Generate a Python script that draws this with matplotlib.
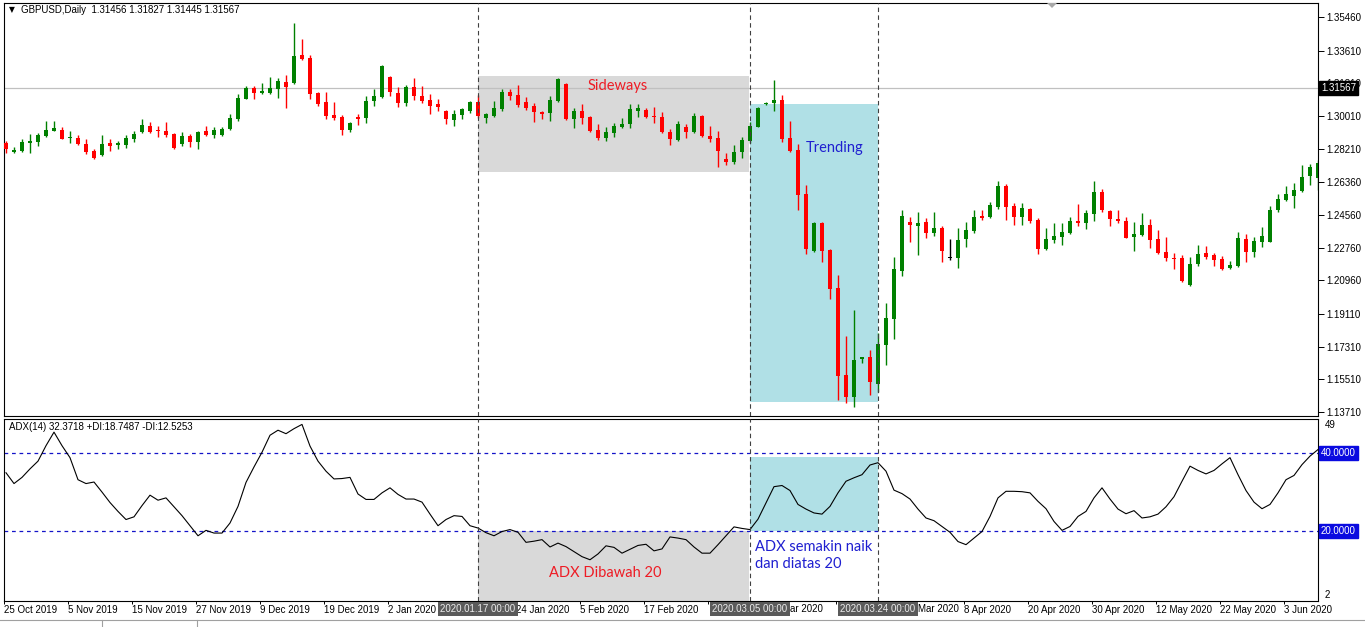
import numpy as np
import matplotlib.pyplot as plt
import matplotlib.patches as mpatches
import matplotlib.transforms as mtransforms
from matplotlib.lines import Line2D

# GBPUSD daily candles, one entry per bar
opens = [1.2853, 1.2803, 1.2809, 1.2853, 1.2858, 1.2891, 1.2919, 1.2924, 1.2880, 1.2880,
         1.2847, 1.2809, 1.2787, 1.2853, 1.2842, 1.2842, 1.2875, 1.2913, 1.2946, 1.2924,
         1.2919, 1.2902, 1.2847, 1.2891, 1.2858, 1.2919, 1.2897, 1.2897, 1.2930, 1.2985,
         1.3095, 1.3156, 1.3128, 1.3128, 1.3150, 1.3189, 1.3183, 1.3337, 1.3321, 1.3128,
         1.3078, 1.3007, 1.2996, 1.2924, 1.2996, 1.2990, 1.3084, 1.3106, 1.3216, 1.3128,
         1.3073, 1.3161, 1.3111, 1.3089, 1.3067, 1.3029, 1.2979, 1.3007, 1.3029, 1.3078,
         1.2990, 1.3001, 1.3040, 1.3133, 1.3117, 1.3078, 1.3056, 1.3023, 1.3018, 1.3084,
         1.3178, 1.2985, 1.3029, 1.2996, 1.2924, 1.2880, 1.2908, 1.2941, 1.2957, 1.3029,
         1.3034, 1.3001, 1.2996, 1.2913, 1.2869, 1.2941, 1.2913, 1.3001, 1.2891, 1.2880,
         1.2765, 1.2748, 1.2803, 1.2864, 1.2941, 1.3067, 1.3073, 1.3089, 1.2880, 1.2814,
         1.2572, 1.2258, 1.2412, 1.2264, 1.2054, 1.1575, 1.1454, 1.1663, 1.1674, 1.1526,
         1.1740, 1.1884, 1.2148, 1.2418, 1.2396, 1.2418, 1.2357, 1.2385, 1.2220, 1.2220,
         1.2324, 1.2368, 1.2451, 1.2445, 1.2500, 1.2616, 1.2506, 1.2445, 1.2489, 1.2429,
         1.2269, 1.2319, 1.2335, 1.2357, 1.2423, 1.2412, 1.2462, 1.2583, 1.2478, 1.2434,
         1.2423, 1.2335, 1.2346, 1.2401, 1.2324, 1.2253, 1.2220, 1.2220, 1.2071, 1.2186,
         1.2247, 1.2236, 1.2214, 1.2164, 1.2175, 1.2324, 1.2253, 1.2308, 1.2308, 1.2484,
         1.2539, 1.2561, 1.2588, 1.2671, 1.2660]
highs = [1.2864, 1.2831, 1.2875, 1.2902, 1.2908, 1.2974, 1.2974, 1.2941, 1.2919, 1.2897,
         1.2875, 1.2820, 1.2897, 1.2875, 1.2864, 1.2897, 1.2919, 1.2985, 1.2968, 1.2946,
         1.2968, 1.2908, 1.2913, 1.2902, 1.2919, 1.2946, 1.2941, 1.2941, 1.3012, 1.3122,
         1.3167, 1.3167, 1.3183, 1.3216, 1.3211, 1.3227, 1.3513, 1.3425, 1.3337, 1.3133,
         1.3133, 1.3078, 1.3007, 1.2968, 1.3012, 1.3111, 1.3150, 1.3282, 1.3222, 1.3161,
         1.3172, 1.3211, 1.3167, 1.3122, 1.3095, 1.3034, 1.3034, 1.3045, 1.3084, 1.3117,
         1.3018, 1.3084, 1.3150, 1.3150, 1.3172, 1.3106, 1.3073, 1.3029, 1.3111, 1.3211,
         1.3183, 1.3045, 1.3067, 1.3001, 1.2957, 1.2941, 1.2963, 1.2990, 1.3067, 1.3067,
         1.3045, 1.3051, 1.3023, 1.2930, 1.2974, 1.2957, 1.3018, 1.3007, 1.2946, 1.2919,
         1.2798, 1.2842, 1.2886, 1.2968, 1.3051, 1.3078, 1.3200, 1.3117, 1.2974, 1.2847,
         1.2621, 1.2418, 1.2418, 1.2269, 1.2126, 1.1790, 1.1933, 1.1677, 1.1713, 1.1807,
         1.1972, 1.2225, 1.2484, 1.2445, 1.2473, 1.2440, 1.2473, 1.2396, 1.2324, 1.2385,
         1.2418, 1.2484, 1.2484, 1.2528, 1.2643, 1.2627, 1.2522, 1.2522, 1.2495, 1.2440,
         1.2385, 1.2412, 1.2412, 1.2445, 1.2517, 1.2484, 1.2643, 1.2599, 1.2484, 1.2484,
         1.2445, 1.2418, 1.2467, 1.2434, 1.2374, 1.2335, 1.2247, 1.2236, 1.2225, 1.2291,
         1.2286, 1.2247, 1.2231, 1.2203, 1.2363, 1.2352, 1.2335, 1.2390, 1.2506, 1.2572,
         1.2616, 1.2632, 1.2732, 1.2737, 1.2759]
lows = [1.2798, 1.2798, 1.2803, 1.2798, 1.2836, 1.2886, 1.2919, 1.2875, 1.2853, 1.2842,
        1.2792, 1.2765, 1.2781, 1.2809, 1.2820, 1.2825, 1.2858, 1.2908, 1.2908, 1.2886,
        1.2886, 1.2820, 1.2836, 1.2831, 1.2820, 1.2891, 1.2880, 1.2891, 1.2924, 1.2974,
        1.3095, 1.3095, 1.3122, 1.3122, 1.3100, 1.3045, 1.3178, 1.3312, 1.3095, 1.3056,
        1.2985, 1.2979, 1.2897, 1.2913, 1.2952, 1.2963, 1.3056, 1.3100, 1.3111, 1.3051,
        1.3056, 1.3089, 1.3073, 1.3012, 1.3029, 1.2957, 1.2946, 1.2985, 1.3018, 1.2990,
        1.2963, 1.2996, 1.3029, 1.3089, 1.3051, 1.3034, 1.2968, 1.2985, 1.2974, 1.3078,
        1.2979, 1.2935, 1.2957, 1.2913, 1.2869, 1.2864, 1.2886, 1.2935, 1.2935, 1.2996,
        1.2993, 1.2963, 1.2908, 1.2842, 1.2864, 1.2880, 1.2908, 1.2888, 1.2858, 1.2721,
        1.2732, 1.2737, 1.2770, 1.2853, 1.2938, 1.3062, 1.3029, 1.2858, 1.2803, 1.2484,
        1.2242, 1.2255, 1.2197, 1.1994, 1.1438, 1.1421, 1.1399, 1.1641, 1.1465, 1.1482,
        1.1630, 1.1773, 1.2120, 1.2308, 1.2236, 1.2330, 1.2341, 1.2197, 1.2208, 1.2164,
        1.2280, 1.2357, 1.2429, 1.2442, 1.2489, 1.2429, 1.2401, 1.2401, 1.2412, 1.2242,
        1.2264, 1.2302, 1.2291, 1.2352, 1.2396, 1.2379, 1.2423, 1.2473, 1.2396, 1.2412,
        1.2327, 1.2258, 1.2341, 1.2275, 1.2244, 1.2203, 1.2159, 1.2090, 1.2065, 1.2175,
        1.2214, 1.2175, 1.2156, 1.2159, 1.2172, 1.2197, 1.2225, 1.2280, 1.2305, 1.2473,
        1.2536, 1.2495, 1.2583, 1.2621, 1.2594]
closes = [1.2820, 1.2814, 1.2858, 1.2864, 1.2897, 1.2924, 1.2935, 1.2875, 1.2886, 1.2847,
          1.2803, 1.2770, 1.2847, 1.2836, 1.2853, 1.2880, 1.2902, 1.2952, 1.2913, 1.2919,
          1.2897, 1.2825, 1.2891, 1.2858, 1.2913, 1.2897, 1.2924, 1.2930, 1.2990, 1.3100,
          1.3156, 1.3128, 1.3139, 1.3156, 1.3194, 1.3161, 1.3332, 1.3315, 1.3122, 1.3067,
          1.3001, 1.2990, 1.2924, 1.2963, 1.2985, 1.3084, 1.3111, 1.3277, 1.3133, 1.3073,
          1.3161, 1.3111, 1.3084, 1.3056, 1.3051, 1.2985, 1.3012, 1.3040, 1.3078, 1.3001,
          1.3012, 1.3045, 1.3133, 1.3111, 1.3062, 1.3045, 1.3023, 1.3012, 1.3089, 1.3205,
          1.2985, 1.3029, 1.2990, 1.2919, 1.2880, 1.2913, 1.2946, 1.2957, 1.3040, 1.3045,
          1.2996, 1.2996, 1.2913, 1.2875, 1.2957, 1.2913, 1.3001, 1.2891, 1.2875, 1.2809,
          1.2748, 1.2803, 1.2869, 1.2946, 1.3045, 1.3073, 1.3089, 1.2875, 1.2809, 1.2566,
          1.2269, 1.2412, 1.2258, 1.2049, 1.1570, 1.1454, 1.1658, 1.1674, 1.1537, 1.1746,
          1.1889, 1.2159, 1.2451, 1.2401, 1.2412, 1.2357, 1.2385, 1.2258, 1.2220, 1.2319,
          1.2374, 1.2445, 1.2440, 1.2511, 1.2616, 1.2500, 1.2445, 1.2495, 1.2423, 1.2269,
          1.2324, 1.2341, 1.2363, 1.2423, 1.2412, 1.2467, 1.2583, 1.2484, 1.2434, 1.2423,
          1.2330, 1.2352, 1.2401, 1.2319, 1.2247, 1.2220, 1.2214, 1.2093, 1.2186, 1.2242,
          1.2225, 1.2208, 1.2159, 1.2181, 1.2330, 1.2253, 1.2313, 1.2341, 1.2484, 1.2544,
          1.2572, 1.2594, 1.2666, 1.2721, 1.2743]

# ADX(14) per bar
adx = [35.0, 32.2, 33.8, 36.0, 38.0, 42.0, 45.5, 42.0, 38.9, 33.2,
       32.2, 32.6, 30.0, 27.3, 25.0, 22.9, 23.6, 26.5, 29.2, 27.9,
       28.5, 26.2, 23.9, 21.3, 18.7, 20.1, 19.4, 19.4, 22.0, 26.3,
       32.5, 36.5, 40.3, 44.7, 46.0, 45.1, 46.4, 47.5, 41.9, 38.0,
       35.4, 33.4, 33.5, 33.8, 29.5, 28.1, 28.1, 29.8, 31.1, 29.4,
       28.2, 28.2, 27.4, 24.3, 21.3, 22.9, 23.9, 23.7, 21.3, 20.7,
       19.5, 18.7, 19.8, 20.3, 19.6, 17.0, 17.3, 17.7, 15.8, 16.8,
       15.9, 14.6, 13.3, 12.5, 14.0, 16.1, 15.7, 14.2, 15.2, 16.2,
       16.5, 14.8, 15.3, 18.4, 18.1, 17.7, 15.8, 14.2, 14.2, 16.4,
       18.7, 21.0, 20.6, 20.3, 23.0, 27.2, 31.4, 31.7, 30.4, 26.8,
       25.6, 24.6, 24.3, 26.3, 29.8, 32.8, 33.7, 34.5, 37.0, 37.6,
       35.4, 30.5, 29.6, 28.2, 25.6, 23.3, 22.6, 21.1, 19.6, 17.2,
       16.4, 18.1, 19.8, 23.7, 28.5, 30.2, 30.2, 30.1, 29.8, 27.6,
       25.7, 22.4, 20.1, 21.1, 23.7, 25.0, 28.5, 31.1, 28.2, 25.6,
       24.4, 25.2, 23.3, 23.6, 24.3, 26.2, 28.8, 32.8, 36.7, 35.6,
       34.7, 35.6, 37.3, 38.9, 34.5, 30.4, 27.4, 25.7, 26.8, 29.8,
       33.2, 34.3, 37.1, 39.3, 41.0]

price_ticks = [1.35460, 1.33610, 1.31810, 1.30010, 1.28210, 1.26360, 1.24560,
               1.22760, 1.20960, 1.19110, 1.17310, 1.15510, 1.13710]
last_price = 1.31567

# date scale: one label every 8 bars; '' where the label sits under a line box
date_bars = list(range(0, 161, 8))
date_labels = ["25 Oct 2019", "5 Nov 2019", "15 Nov 2019", "27 Nov 2019", "9 Dec 2019",
               "19 Dec 2019", "2 Jan 2020", "", "24 Jan 2020", "5 Feb 2020",
               "17 Feb 2020", "", "", "", "",
               "8 Apr 2020", "20 Apr 2020", "30 Apr 2020", "12 May 2020", "22 May 2020",
               "3 Jun 2020"]
# tails of "5 Mar 2020" / "27 Mar 2020" that peek out from behind the boxes
partial_labels = [(98.0, "ar 2020"), (114.0, "Mar 2020")]

vline_bars = [59, 93, 109]
vline_labels = ["2020.01.17 00:00", "2020.03.05 00:00", "2020.03.24 00:00"]
adx_levels = [40, 20]

# annotation boxes: (bar start, bar end, low, high)
sideways_box = (59, 92.9, 1.2693, 1.3222)
trending_box = (93, 109, 1.1427, 1.3067)
adx_top_trend = 39.0

plt.rcParams['font.family'] = ['Liberation Sans', 'DejaVu Sans']
plt.rcParams['font.size'] = 7

W, H = 1365, 627
fig = plt.figure(figsize=(W / 100, H / 100), dpi=100)
fig.patch.set_facecolor('white')


def px_axes(x0, y0, x1, y1):
    return fig.add_axes([x0 / W, 1 - y1 / H, (x1 - x0) / W, (y1 - y0) / H])


ax = px_axes(4, 3, 1318, 416)
ax2 = px_axes(4, 419, 1318, 601)

GREEN, RED = '#008000', '#ff0000'
GRAYBOX, CYANBOX = '#d9d9d9', '#b0e0e6'
LEVEL_BLUE = '#1414c8'
LABEL_FONT = ['Lato', 'DejaVu Sans']

o, h, l, c = map(np.array, (opens, highs, lows, closes))
x = np.arange(len(o))
col = np.where(c > o, GREEN, np.where(c < o, RED, '#000000'))

# ---- price panel
ax.add_patch(mpatches.Rectangle((sideways_box[0], sideways_box[2]),
                                sideways_box[1] - sideways_box[0],
                                sideways_box[3] - sideways_box[2],
                                facecolor=GRAYBOX, lw=0, zorder=1))
ax.add_patch(mpatches.Rectangle((trending_box[0], trending_box[2]),
                                trending_box[1] - trending_box[0],
                                trending_box[3] - trending_box[2],
                                facecolor=CYANBOX, lw=0, zorder=1))
ax.axhline(last_price, color='#c0c0c0', lw=0.9, zorder=2)

ax.vlines(x, l, h, colors=col, lw=1.0, zorder=3)
ax.bar(x, np.maximum(np.abs(c - o), 0.0006), bottom=np.minimum(o, c),
       width=0.62, color=col, lw=0, zorder=4)

for b in vline_bars:
    ax.axvline(b, color='#404040', lw=0.8, ls=(0, (4, 3)), zorder=5)
    ax2.axvline(b, color='#404040', lw=0.8, ls=(0, (4, 3)), zorder=5)

ax.text(76.4, 1.3167, 'Sideways', color='#ee1c25', fontsize=10.5, family=LABEL_FONT,
        ha='center', va='center', zorder=6)
ax.text(103.6, 1.2825, 'Trending', color='#1f1fd0', fontsize=10.5, family=LABEL_FONT,
        ha='center', va='center', zorder=6)

ax.set_xlim(-0.25, 164)
ax.set_ylim(1.13495, 1.36235)
ax.set_xticks([])
ax.yaxis.tick_right()
ax.set_yticks(price_ticks)
ax.set_yticklabels([f'{p:.5f}' for p in price_ticks])
ax.tick_params(axis='y', length=4, width=0.7, pad=2, labelsize=7)

transP = mtransforms.blended_transform_factory(ax.transAxes, ax.transData)
ax.text(1 + 3 / 1314, last_price, f'{last_price:.5f}', transform=transP, ha='left',
        va='center', color='white', fontsize=7, clip_on=False, zorder=20,
        bbox=dict(boxstyle='square,pad=0.2', fc='black', ec='black'))

ax.text(5 / 1314, 1 - 7 / 413, '\u25bc', transform=ax.transAxes, fontsize=5.5,
        family='DejaVu Sans', va='center', ha='left')
ax.text(17 / 1314, 1 - 7 / 413, 'GBPUSD,Daily  1.31456 1.31827 1.31445 1.31567',
        transform=ax.transAxes, fontsize=7, va='center', ha='left')

# ---- ADX panel
ylo, yhi = 1.83, 48.9
ax2.add_patch(mpatches.Rectangle((sideways_box[0], ylo), sideways_box[1] - sideways_box[0],
                                 adx_levels[1] - ylo, facecolor=GRAYBOX, lw=0, zorder=1))
ax2.add_patch(mpatches.Rectangle((trending_box[0], adx_levels[1]),
                                 trending_box[1] - trending_box[0],
                                 adx_top_trend - adx_levels[1],
                                 facecolor=CYANBOX, lw=0, zorder=1))
for lv in adx_levels:
    ax2.axhline(lv, color=LEVEL_BLUE, lw=0.9, ls=(0, (3, 3)), zorder=2)
ax2.plot(x, adx, color='black', lw=0.8, zorder=4)

ax2.text(74.9, 9.2, 'ADX Dibawah 20', color='#ee1c25', fontsize=10.5, family=LABEL_FONT,
         ha='center', va='center', zorder=6)
ax2.text(93.6, 13.6, 'ADX semakin naik\ndan diatas 20', color='#1f1fd0', fontsize=10.5,
         family=LABEL_FONT, ha='left', va='center', linespacing=1.25, zorder=6)
ax2.text(5 / 1314, 1 - 8 / 182, 'ADX(14) 32.3718 +DI:18.7487 -DI:12.5253',
         transform=ax2.transAxes, fontsize=7, va='center', ha='left')

ax2.set_xlim(-0.25, 164)
ax2.set_ylim(ylo, yhi)
ax2.yaxis.tick_right()
ax2.set_yticks(adx_levels)
ax2.set_yticklabels(['', ''])
ax2.tick_params(axis='y', length=4, width=0.7)
ax2.text(1 + 7 / 1314, 1 - 6 / 182, '49', transform=ax2.transAxes, fontsize=7,
         va='center', ha='left', clip_on=False)
ax2.text(1 + 7 / 1314, 6 / 182, '2', transform=ax2.transAxes, fontsize=7,
         va='center', ha='left', clip_on=False)

transA = mtransforms.blended_transform_factory(ax2.transAxes, ax2.transData)
for lv in adx_levels:
    ax2.text(1 + 3 / 1314, lv, f'{lv:.4f}', transform=transA, ha='left', va='center',
             color='white', fontsize=7, clip_on=False, zorder=20,
             bbox=dict(boxstyle='square,pad=0.2', fc='#0a0ae0', ec='#0a0ae0'))

ax2.set_xticks(np.array(date_bars) - 0.25)
ax2.set_xticklabels(date_labels, ha='left')
ax2.tick_params(axis='x', length=2, width=0.7, pad=1, labelsize=7)

transD = mtransforms.blended_transform_factory(ax2.transData, ax2.transAxes)
for b, s in partial_labels:
    ax2.text(b, -8 / 182, s, transform=transD, ha='left', va='center', fontsize=7,
             clip_on=False)
for b, s in zip(vline_bars, vline_labels):
    ax2.text(b, -8 / 182, s, transform=transD, ha='center', va='center',
             color='#ececec', fontsize=7, clip_on=False, zorder=20,
             bbox=dict(boxstyle='square,pad=0.2', fc='#5a5a5a', ec='none'))

for a in (ax, ax2):
    for sp in a.spines.values():
        sp.set_linewidth(0.8)
        sp.set_color('black')

# window chrome: shift marker and tab strip
fig.add_artist(mpatches.Polygon([(1047 / W, 1 - 3 / H), (1057 / W, 1 - 3 / H),
                                 (1052 / W, 1 - 8 / H)], closed=True,
                                transform=fig.transFigure, fc='#a8a8a8', ec='none'))
fig.add_artist(Line2D([0, 1], [1 - 620 / H] * 2, transform=fig.transFigure,
                      color='#a0a0a0', lw=0.8))
for xx in (102, 197):
    fig.add_artist(Line2D([xx / W] * 2, [1 - 620 / H, 0], transform=fig.transFigure,
                          color='#a0a0a0', lw=0.8))

fig.savefig('out.png', dpi=100)
